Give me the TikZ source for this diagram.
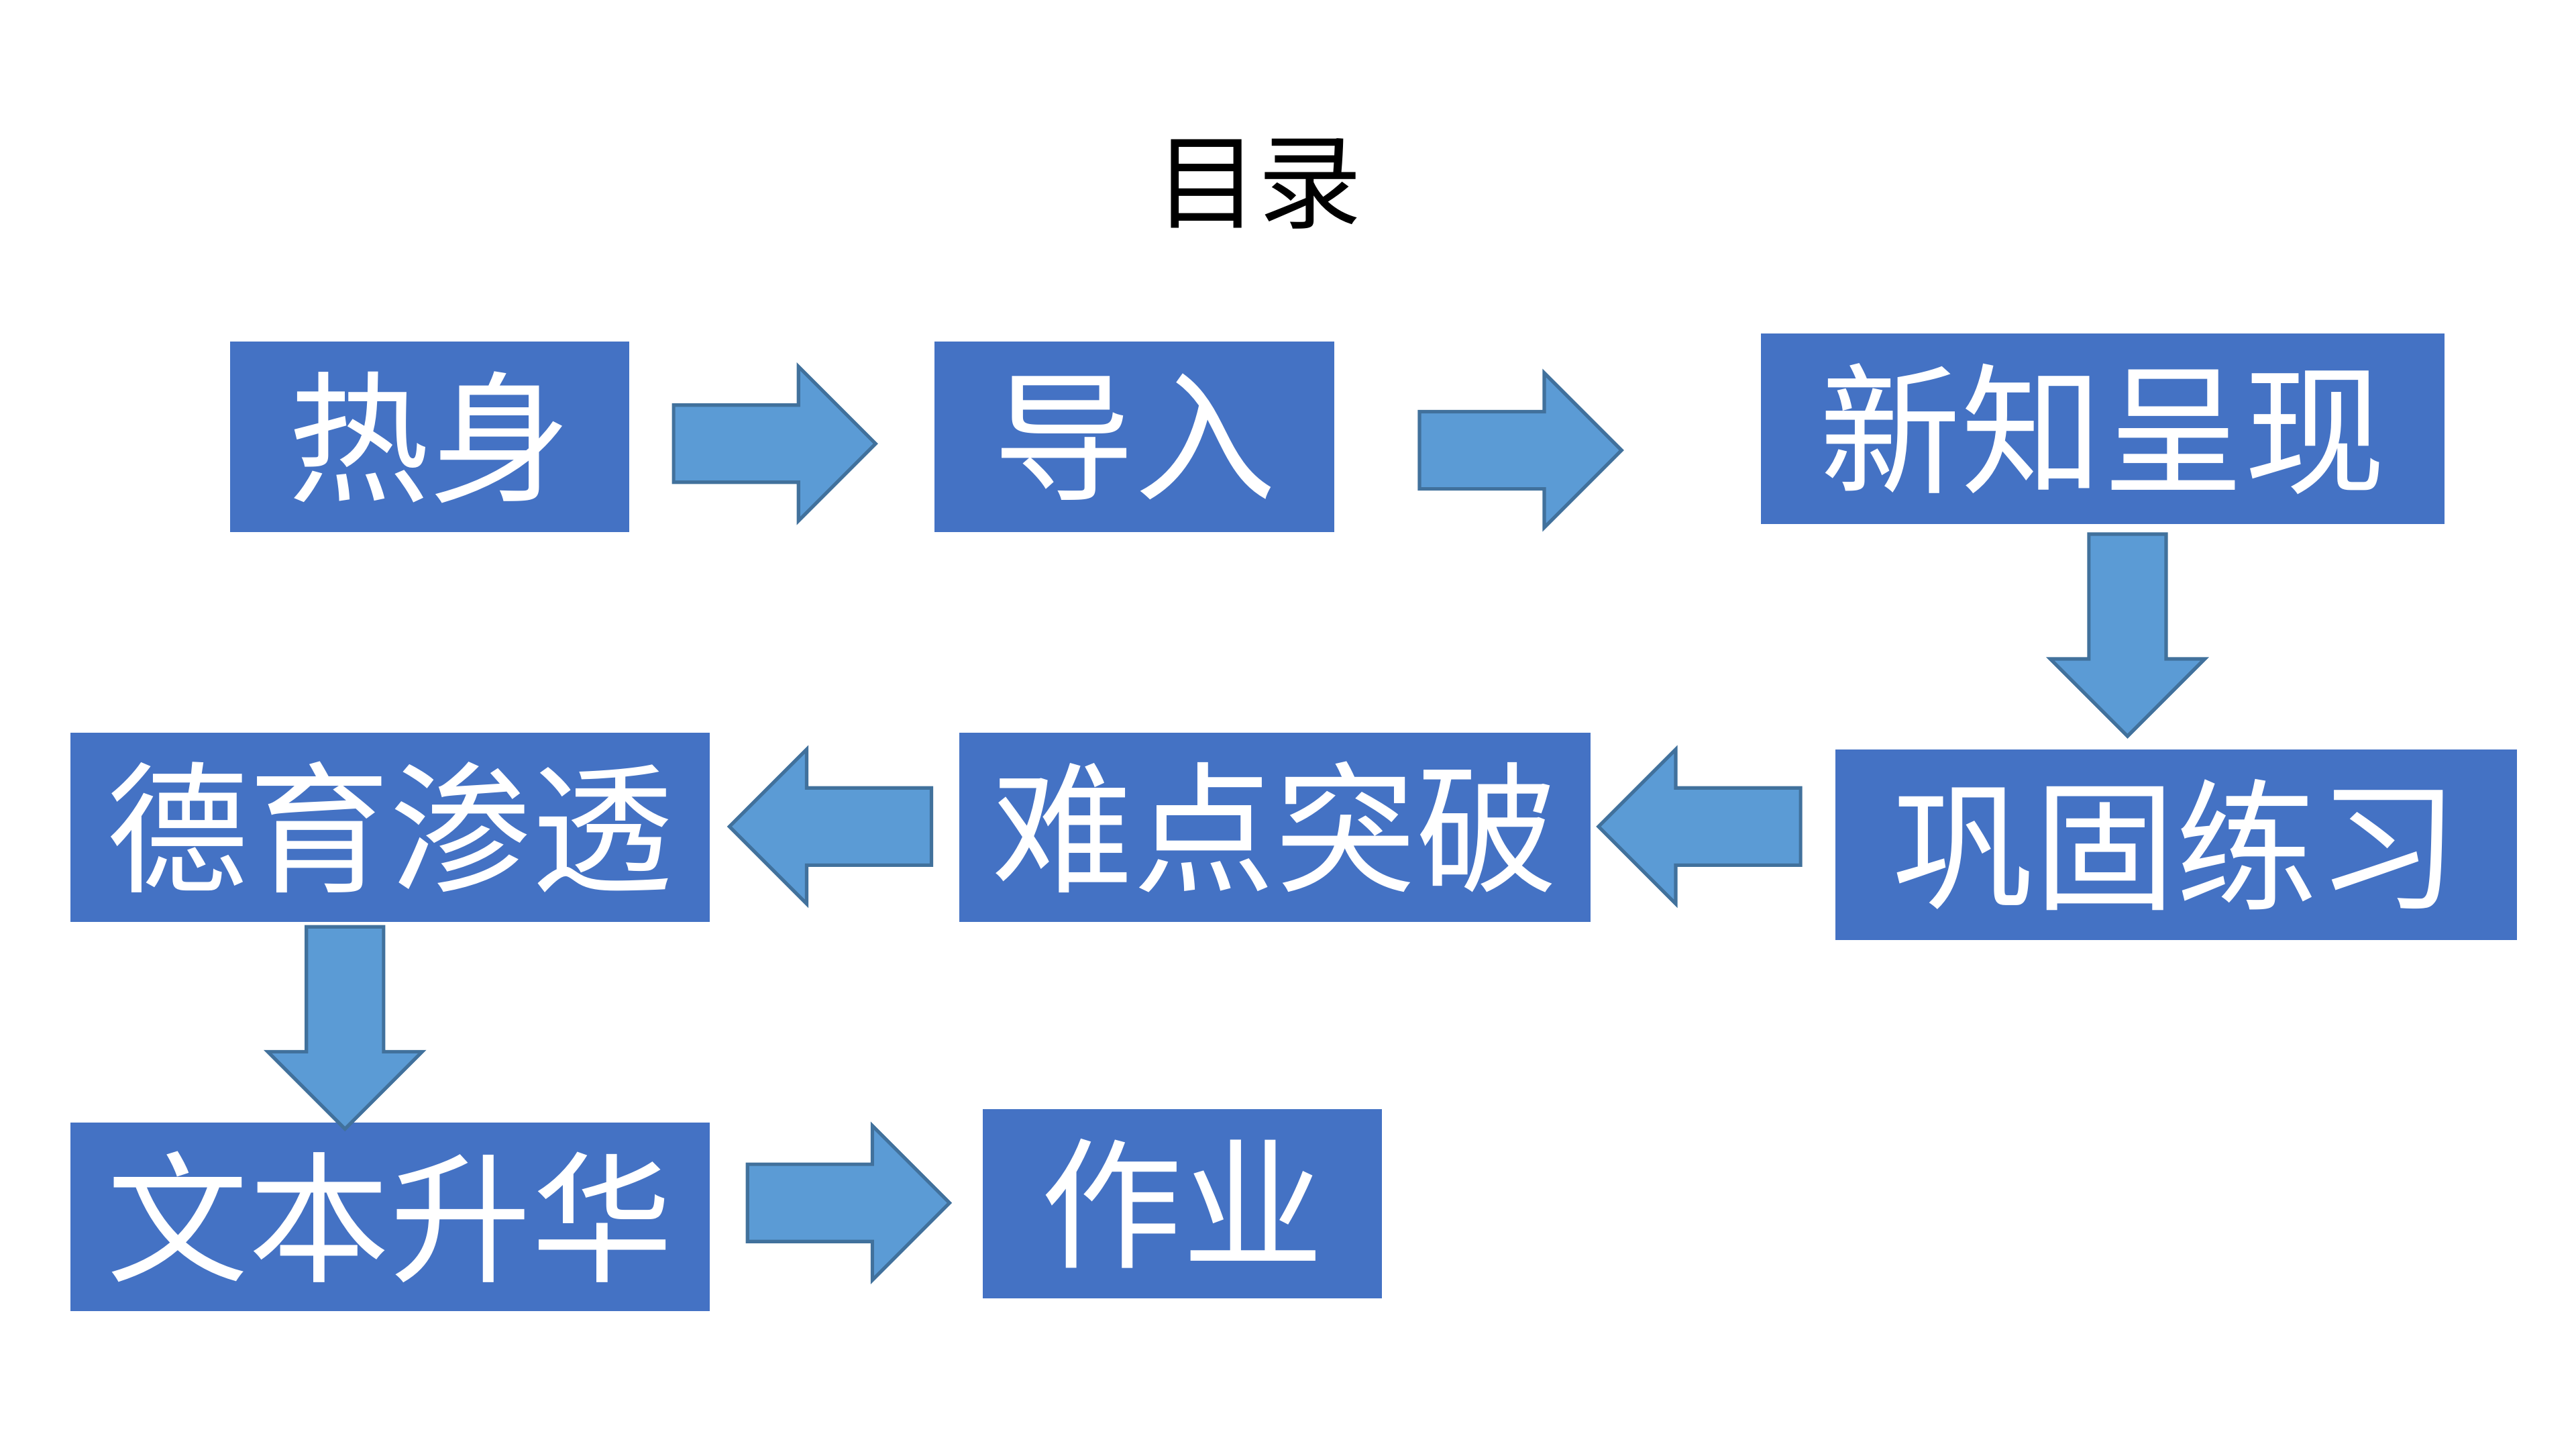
\documentclass[tikz,border=0pt]{standalone}
\usepackage{fontspec}
\newfontfamily\cjk{Noto Sans CJK SC}
\usetikzlibrary{positioning}

\definecolor{boxblue}{HTML}{4472C4}
\definecolor{arrblue}{HTML}{5B9BD5}
\definecolor{arredge}{HTML}{41719C}

\begin{document}
\begin{tikzpicture}[
  x=0.1mm,y=-0.1mm,
  font=\cjk,
  stage/.style={fill=boxblue,text=white,inner sep=0pt,minimum height=11.6mm,
    font=\cjk\fontsize{24.5}{28}\selectfont},
  ttl/.style={font=\cjk\fontsize{18}{22}\selectfont,text=black},
  blk/.style={fill=arrblue,draw=arredge,line width=0.6pt,line join=miter},
  pics/blkarrow/.style={code={
    \draw[blk] (0,-23.5) -- (76,-23.5) -- (76,-47) -- (123,0) -- (76,47)
      -- (76,23.5) -- (0,23.5) -- cycle;}}
]
\useasboundingbox (0,0) rectangle (1568,882);

% ---------------- title ----------------
\node[ttl] (title) at (766,112) {目录};

% ---------------- stages ----------------
\node[stage,minimum width=24.3mm] (warm)  at (261.5,266) {热身};
\node[stage,minimum width=24.3mm] (intro) at (690.5,266) {导入};
\node[stage,minimum width=41.6mm] (newk)  at (1280,261)  {新知呈现};
\node[stage,minimum width=41.5mm] (drill) at (1324.5,514) {巩固练习};
\node[stage,minimum width=38.4mm,minimum height=11.5mm] (hard)  at (776,503.5) {难点突破};
\node[stage,minimum width=38.9mm,minimum height=11.5mm] (moral) at (237.5,503.5) {德育渗透};
\node[stage,minimum width=38.9mm,minimum height=11.5mm] (lift)  at (237.5,740.5) {文本升华};
\node[stage,minimum width=24.3mm,minimum height=11.5mm] (work)  at (719.5,732.5) {作业};

% ---------------- block arrows ----------------
\coordinate (a1) at (410,270);
\coordinate (a2) at (864,274);
\coordinate (a3) at (1295,325);
\coordinate (a4) at (1096,503);
\coordinate (a5) at (567,503);
\coordinate (a6) at (210,564);
\coordinate (a7) at (455,732);

\pic at (a1) {blkarrow};
\pic at (a2) {blkarrow};
\pic[rotate=-90] at (a3) {blkarrow};
\pic[rotate=180] at (a4) {blkarrow};
\pic[rotate=180] at (a5) {blkarrow};
\pic[rotate=-90] at (a6) {blkarrow};
\pic at (a7) {blkarrow};

\end{tikzpicture}
\end{document}
